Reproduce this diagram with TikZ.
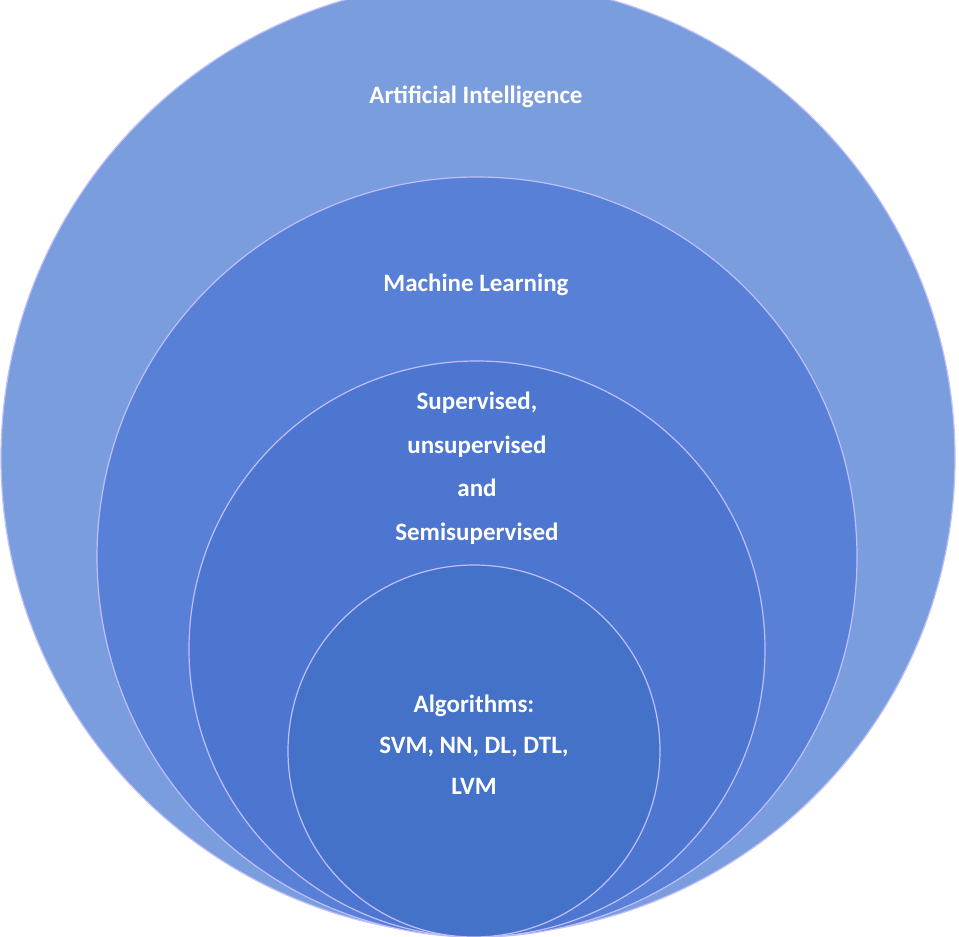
\documentclass[tikz,border=0pt]{standalone}
\usepackage{fontspec}
\setmainfont{Carlito}
\usetikzlibrary{positioning}
\tikzset{
	ring/.style={
		circle,
		draw=white!75!blue,
		line width=1.2pt,
		inner sep=0pt
	},
	label text/.style={
		text=white,
		font=\bfseries\fontsize{25}{30}\selectfont,
		align=center
	}
}
\begin{document}
\begin{tikzpicture}[x=1pt, y=-1pt]
	\useasboundingbox (0,0) rectangle (959,937);
	\fill[white] (0,0) rectangle (959,937);
	\begin{scope}
		\clip (0,0) rectangle (959,937);
		\node[
			ring,
			fill={rgb,255:red,122;green,157;blue,221},
			minimum size=954pt
		] (ai) at (478,458) {};
	\end{scope}
	\node[
		ring,
		fill={rgb,255:red,88;green,128;blue,214},
		minimum size=760pt
	] (ml) at (477,557) {};
	\node[
		ring,
		fill={rgb,255:red,76;green,118;blue,207},
		minimum size=576pt
	] (learn) at (477,649) {};
	\node[
		ring,
		fill={rgb,255:red,68;green,114;blue,200},
		minimum size=372pt
	] (algo) at (474,751) {};
	\node[label text] (ai label) at (476,97) {Artificial Intelligence};
	\node[label text] (ml label) at (476,285) {Machine Learning};
	\node[
		label text,
		font=\bfseries\fontsize{25}{43.5}\selectfont
	] (learn label) at (477,468) {Supervised,\\unsupervised\\and\\Semisupervised};
	\node[
		label text,
		font=\bfseries\fontsize{25}{41}\selectfont
	] (algo label) at (474,745) {Algorithms:\\SVM, NN, DL, DTL,\\LVM};
\end{tikzpicture}
\end{document}
